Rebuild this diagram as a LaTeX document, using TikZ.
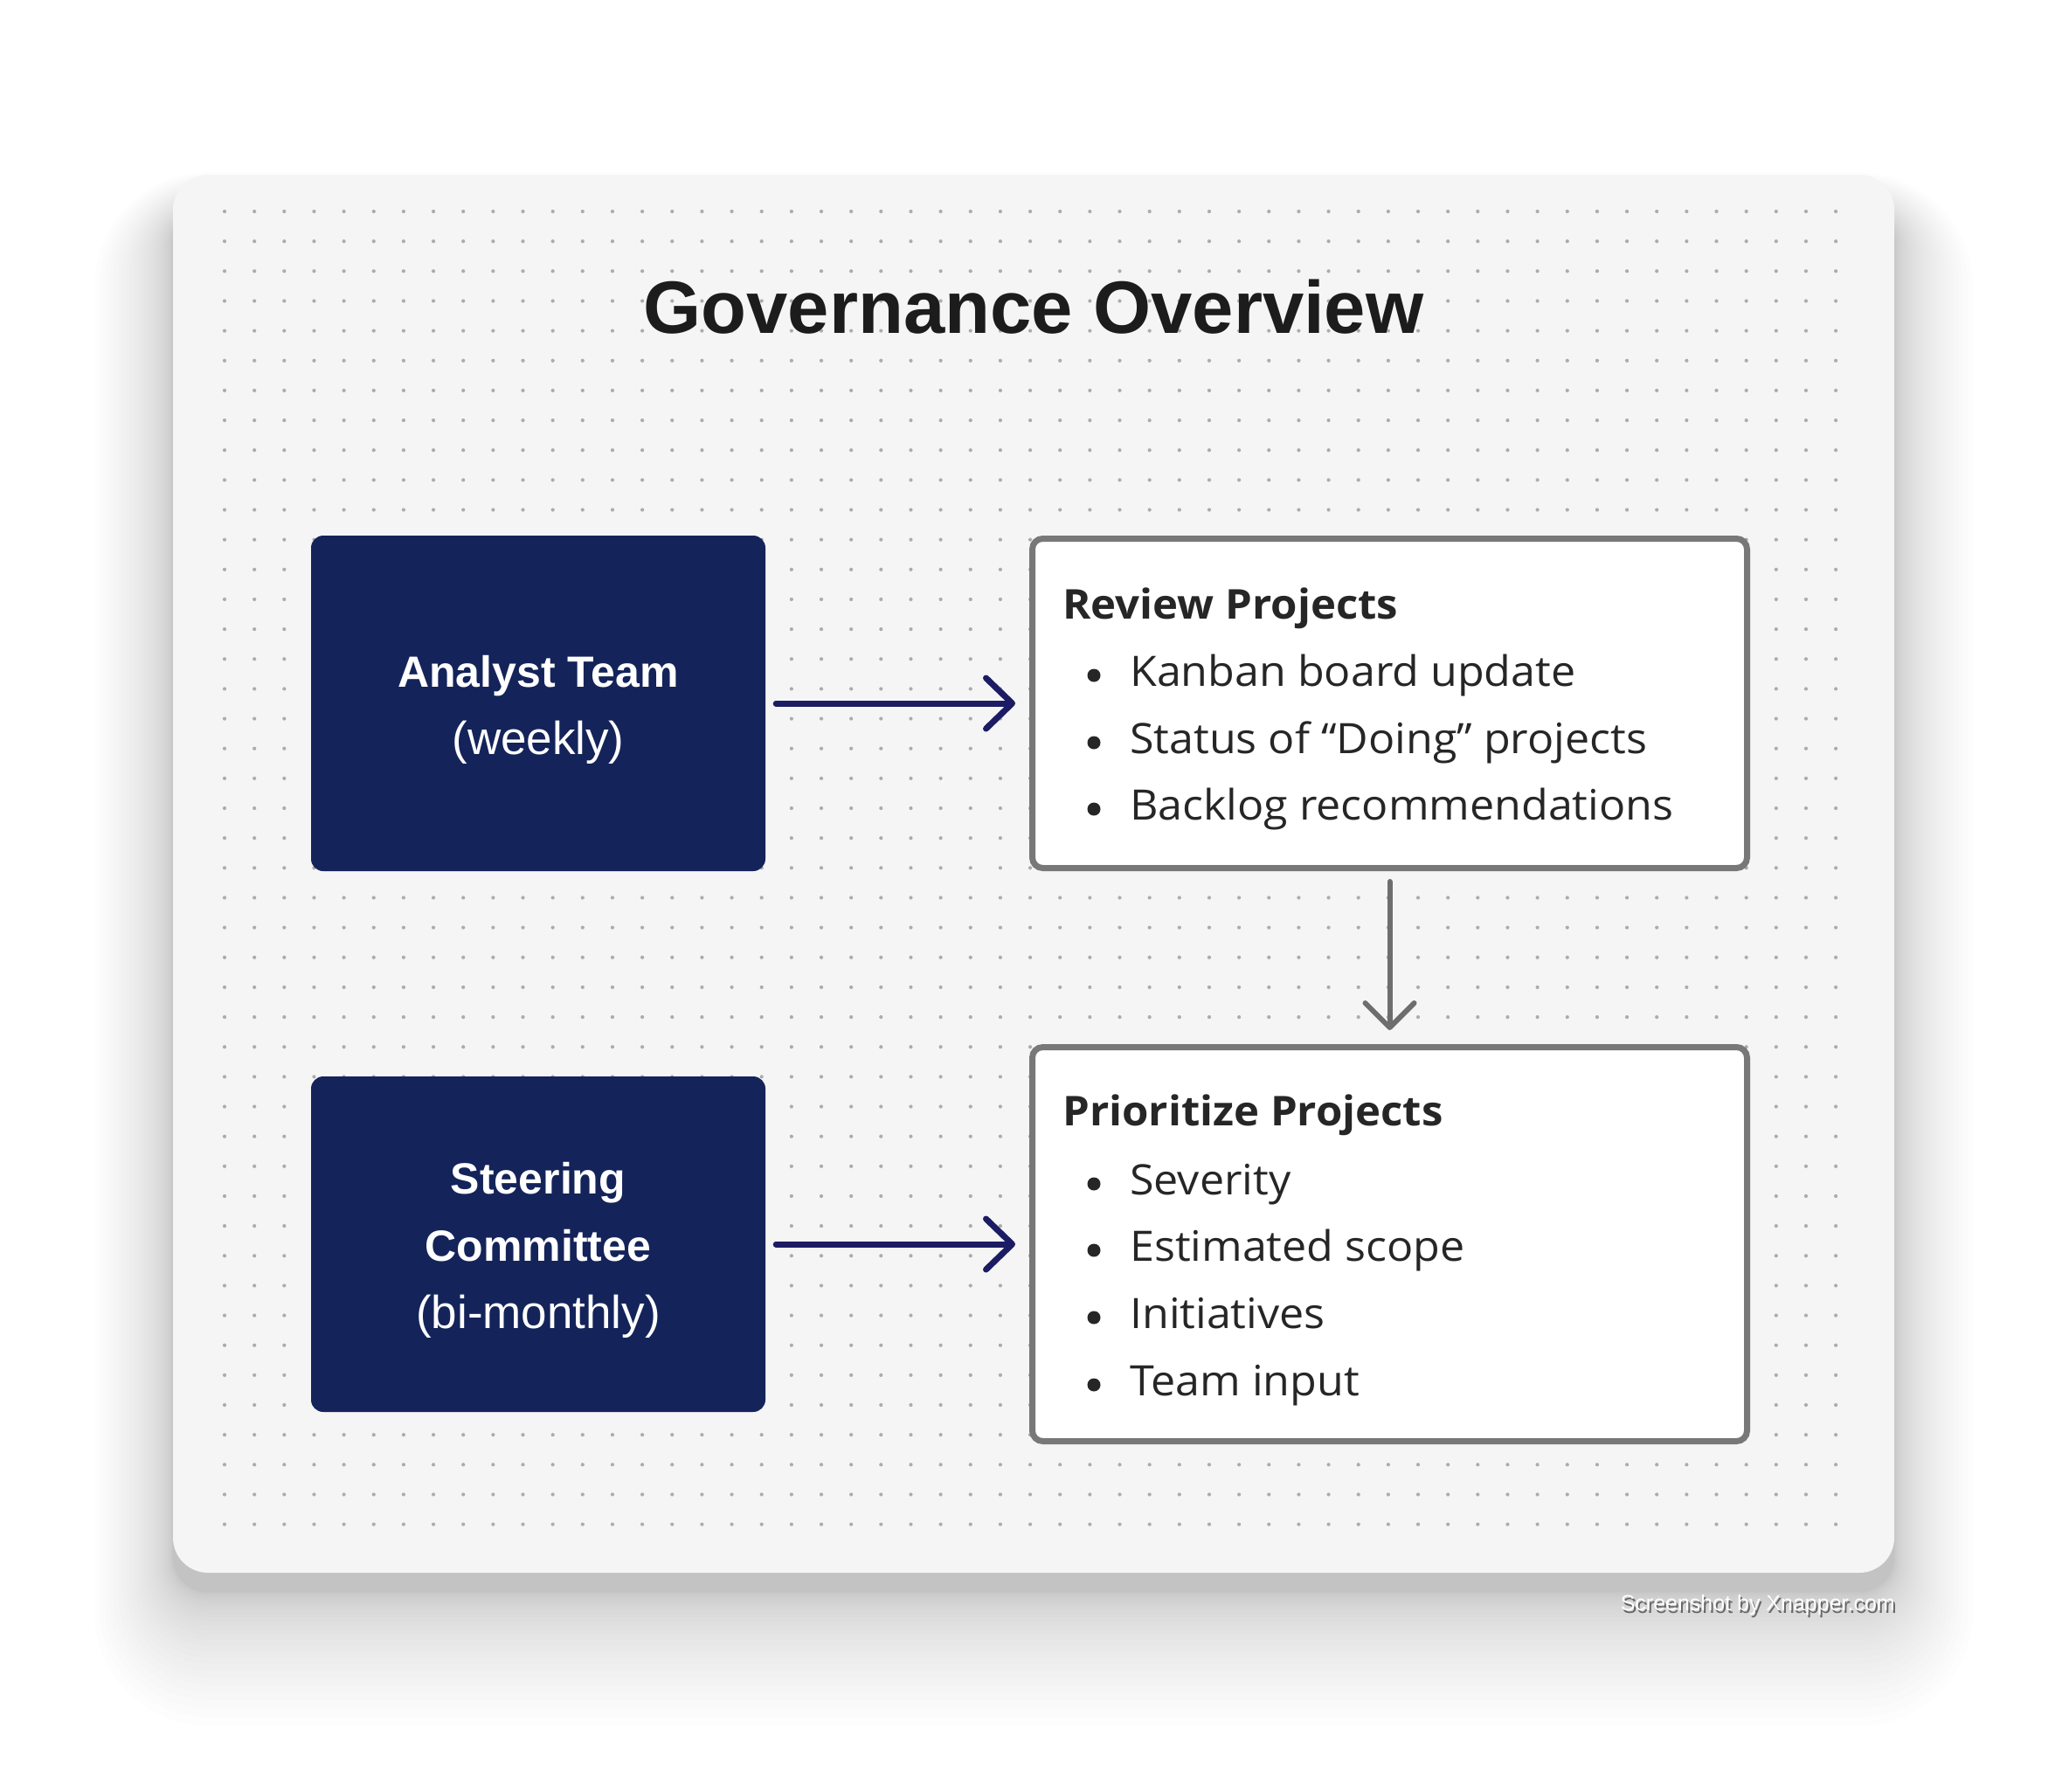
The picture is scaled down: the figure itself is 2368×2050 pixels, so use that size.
\documentclass[tikz,border=0pt]{standalone}
\usepackage{fontspec}
\setmainfont{Liberation Sans}
\newfontfamily\listfont[FakeStretch=1.045]{Open Sans}
\usetikzlibrary{arrows.meta}
\definecolor{navy}{RGB}{20,36,90}
\definecolor{arrownavy}{RGB}{28,28,100}
\definecolor{cardbg}{RGB}{245,245,245}
\definecolor{dotc}{RGB}{172,172,172}
\definecolor{boxborder}{RGB}{120,120,120}
\definecolor{txt}{RGB}{38,38,38}
\definecolor{titlec}{RGB}{28,28,28}
\definecolor{garrow}{RGB}{110,110,110}
\tikzset{
  darkbox/.style={fill=navy, rounded corners=14, minimum width=520, minimum height=384, inner sep=0},
  boldlbl/.style={anchor=base, inner sep=0, text=white, font=\bfseries\fontsize{50}{60}\selectfont},
  reglbl/.style={anchor=base, inner sep=0, text=white, font=\fontsize{53}{60}\selectfont},
  listbox/.style={draw=boxborder, line width=7, fill=white, rounded corners=12,
    minimum width=818, inner sep=0},
  headtxt/.style={anchor=base west, inner sep=0, text=txt, font=\listfont\bfseries\fontsize{47}{56}\selectfont},
  itemtxt/.style={anchor=base west, inner sep=0, text=txt, font=\listfont\fontsize{48}{56}\selectfont},
  bul/.style={fill=txt},
  navyarrow/.style={draw=arrownavy, line width=7, line cap=round,
    -{Straight Barb[length=30pt,width=58pt,line cap=round,line join=round]}},
  grayarrow/.style={draw=garrow, line width=6, line cap=round,
    -{Straight Barb[length=28pt,width=56pt,line cap=round,line join=round]}},
}
\begin{document}
\begin{tikzpicture}[x=1pt,y=-1pt]
\useasboundingbox (0,0) rectangle (2368,2050);
\fill[white] (0,0) rectangle (2368,2050);
% shadow
\foreach \i [evaluate=\i as \e using 0.1*\i*\i,
             evaluate=\i as \b using 0.17*\i*\i,
             evaluate=\i as \t using 0.045*\i*\i,
             evaluate=\i as \r using 40+0.1*\i*\i] in {1,...,30}{
  \fill[black,opacity=0.0085,rounded corners=\r]
    ({198-\e},{238-\t}) rectangle ({2168+\e},{1822+\b});
}
% card
\fill[cardbg,rounded corners=40] (198,200) rectangle (2168,1800);
% dot grid
\foreach \i in {0,...,54}{
  \foreach \j in {0,...,44}{
    \fill[dotc] ({257+\i*34.15},{242+\j*34.15}) circle (2.1);
  }
}
% title
\node[anchor=base, inner sep=0, text=titlec, font=\bfseries\fontsize{85}{100}\selectfont]
  (title) at (1183,381) {Governance Overview};
% dark boxes
\node[darkbox] (analyst) at (616,805) {};
\node[boldlbl] (an1) at (616,786) {Analyst Team};
\node[reglbl] (an2) at (616,863) {(weekly)};
\node[darkbox] (steering) at (616,1424) {};
\node[boldlbl] (st1) at (616,1366) {Steering};
\node[boldlbl] (st2) at (616,1443) {Committee};
\node[reglbl] (st3) at (616,1520) {(bi-monthly)};
% list boxes
\node[listbox, minimum height=377] (review) at (1590.5,805) {};
\node[listbox, minimum height=451] (prio) at (1590.5,1424) {};
% review text
\node[headtxt] (revh) at (1216,708) {Review Projects};
\node[itemtxt] (rev1) at (1293,785) {Kanban board update};
\node[itemtxt] (rev2) at (1293,862) {Status of “Doing” projects};
\node[itemtxt] (rev3) at (1293,938) {Backlog recommendations};
\foreach \y in {785,862,938}{ \fill[bul] (1252,{\y-12}) circle (7.5); }
% prioritize text
\node[headtxt] (prih) at (1216,1288) {Prioritize Projects};
\node[itemtxt] (pri1) at (1293,1367) {Severity};
\node[itemtxt] (pri2) at (1293,1443) {Estimated scope};
\node[itemtxt] (pri3) at (1293,1520) {Initiatives};
\node[itemtxt] (pri4) at (1293,1597) {Team input};
\foreach \y in {1367,1443,1520,1597}{ \fill[bul] (1252,{\y-12}) circle (7.5); }
% connectors
\draw[navyarrow, shorten <=12pt, shorten >=16pt] (analyst.east) -- (review.west);
\draw[navyarrow, shorten <=12pt, shorten >=16pt] (steering.east) -- (prio.west);
\draw[grayarrow, shorten <=12pt, shorten >=16pt] (review.south) -- (prio.north);
% watermark
\node[anchor=base east, inner sep=0, text=black!60, font=\fontsize{25}{30}\selectfont]
  (wmshadow) at (2171,1846) {Screenshot by Xnapper.com};
\node[anchor=base east, inner sep=0, text=white, font=\fontsize{25}{30}\selectfont]
  (wm) at (2169,1843) {Screenshot by Xnapper.com};
\end{tikzpicture}
\end{document}
